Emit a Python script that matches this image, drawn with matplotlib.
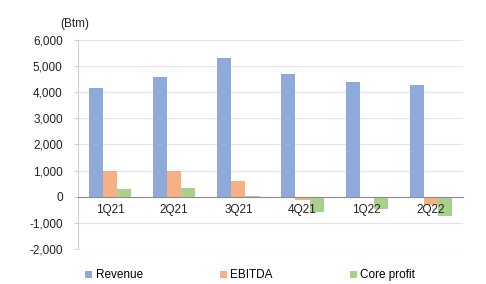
import matplotlib.pyplot as plt
import numpy as np

plt.rcParams['font.family'] = ['Liberation Sans', 'DejaVu Sans']

quarters = ['1Q21', '2Q21', '3Q21', '4Q21', '1Q22', '2Q22']
revenue = [4180, 4590, 5310, 4680, 4400, 4270]
ebitda = [970, 990, 590, -110, -20, -300]
core_profit = [290, 330, 20, -600, -470, -730]

fig = plt.figure(figsize=(4.86, 2.84), dpi=100)
ax = fig.add_axes([0.1605, 0.1232, 0.792, 0.736])

yticks = list(range(-2000, 6001, 1000))
for v in yticks:
    ax.axhline(v, color='#e4e4e4', linewidth=0.8, zorder=0)

x = np.arange(len(quarters))
w = 0.22
ax.bar(x - w, revenue, w, color='#8eaadb', label='Revenue', zorder=2)
ax.bar(x, ebitda, w, color='#f4b183', label='EBITDA', zorder=2)
ax.bar(x + w, core_profit, w, color='#a9d18e', label='Core profit', zorder=2)

ax.set_xlim(-0.5, len(quarters) - 0.5)
ax.set_ylim(-2000, 6000)
ax.set_yticks(yticks)
ax.set_yticklabels([f'{v:,}' for v in yticks])

ax.set_xticks(x)
ax.set_xticklabels(quarters)
ax.xaxis.set_zorder(5)
ax.spines['bottom'].set_position(('data', 0))
ax.spines['bottom'].set_color('#8c8c8c')
ax.spines['bottom'].set_zorder(4)
ax.spines['left'].set_color('#d0d0d0')
ax.spines['top'].set_visible(False)
ax.spines['right'].set_visible(False)
ax.tick_params(axis='x', length=0, pad=5, labelsize=8.5, colors='#222222')
ax.tick_params(axis='y', length=3, color='#d0d0d0', pad=8, labelsize=8.5, labelcolor='#222222')

fig.text(0.123, 0.915, '(Btm)', fontsize=8.5, color='#222222', ha='left', va='center')

fig.legend(loc='center', bbox_to_anchor=(0.515, 0.03), ncol=3, frameon=False,
           fontsize=8.5, handlelength=0.6, handleheight=0.6, handletextpad=0.3,
           columnspacing=6.5)

fig.savefig('out.png', dpi=100)
